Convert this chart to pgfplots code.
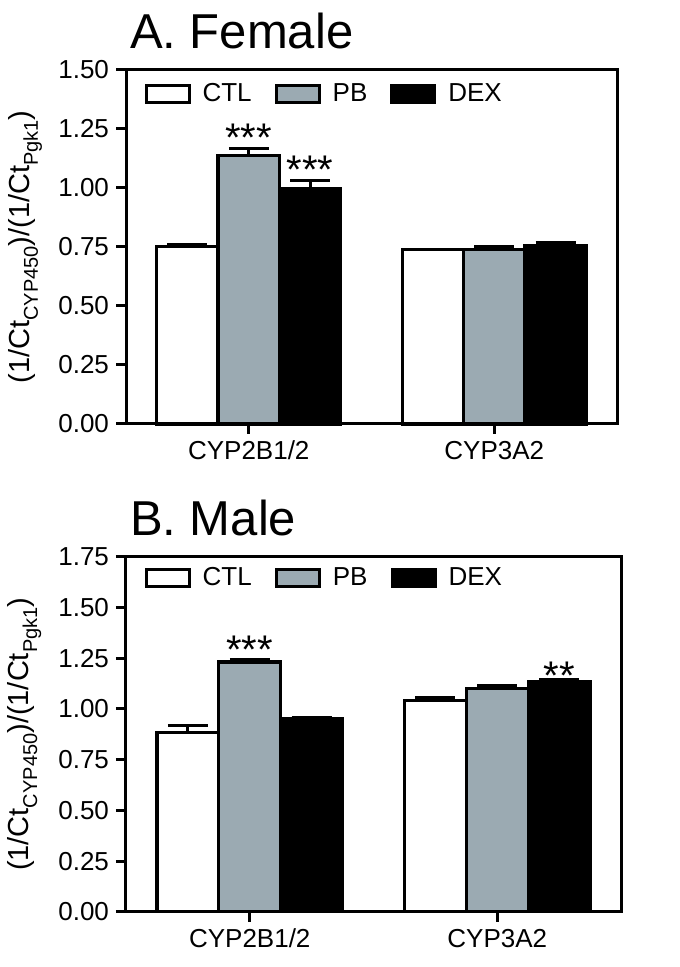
\documentclass[border=0pt]{standalone}
\usepackage{fontspec}
\setmainfont{Liberation Sans}
\usepackage{pgfplots}
\pgfplotsset{compat=1.18}
\definecolor{pbgrey}{RGB}{155,170,178}
\newcommand{\sub}[1]{\raisebox{-0.28em}{\fontsize{10}{10}\selectfont #1}}
\tikzset{stars/.style={anchor=base, font=\fontsize{20}{20}\selectfont}}
\pgfplotsset{
  mybars/.style={
    scale only axis,
    width=245.5pt, height=177pt,
    ybar=0pt, bar width=0.25,
    xmin=-0.5, xmax=1.5, ymin=0,
    axis line style={line width=1.5pt},
    xtick pos=bottom, ytick pos=left,
    xtick={0,1}, xticklabels={CYP2B1/2, CYP3A2},
    tick align=outside, major tick length=5pt,
    tick style={line width=1.5pt, black},
    ticklabel style={font=\fontsize{13}{13}\selectfont},
    yticklabel style={/pgf/number format/fixed, /pgf/number format/fixed zerofill, /pgf/number format/precision=2, /pgf/number format/assume math mode=true},
    ylabel={(1/Ct\sub{CYP450})/(1/Ct\sub{Pgk1})},
    ylabel style={at={(axis description cs:-0.205,0.5)}, anchor=center, font=\fontsize{14.5}{14.5}\selectfont},
    title style={at={(axis description cs:0,1)}, anchor=base west, yshift=4.5pt, xshift=-1.5pt, font=\fontsize{24.5}{24.5}\selectfont},
    legend columns=3,
    legend style={draw=none, fill=none, inner sep=0pt, font=\fontsize{13}{13}\selectfont,
      /tikz/every odd column/.append style={column sep=4pt},
      /tikz/every even column/.append style={column sep=9.5pt}},
    legend image code/.code={\draw[#1, line width=1.5pt] (0pt,-4.3pt) rectangle (21.5pt,4.3pt);},
    every axis plot/.append style={line width=1.6pt, draw=black,
      error bars/y dir=plus, error bars/y explicit,
      error bars/error bar style={line width=1.5pt, black},
      error bars/error mark options={rotate=90, mark size=10pt, line width=1.5pt, black}},
    clip=false,
  },
}
\begin{document}
\begin{tikzpicture}
\path[use as bounding box] (0,0) rectangle (339.5pt,483.5pt);
% Top: female
\begin{axis}[mybars, at={(63pt,271.5pt)}, anchor=south west,
  ymax=1.5, ytick={0,0.25,...,1.5},
  title={A. Female},
  legend style={at={(axis description cs:0.037,0.932)}, anchor=west}]
\addplot[fill=white] coordinates {(0,0.752) +- (0,0.010) (1,0.738) +- (0,0.003)};
\addplot[fill=pbgrey] coordinates {(0,1.138) +- (0,0.028) (1,0.738) +- (0,0.015)};
\addplot[fill=black] coordinates {(0,0.998) +- (0,0.032) (1,0.755) +- (0,0.015)};
\legend{CTL,PB,DEX}
\node[stars] at (axis cs:0,1.155) {***};
\node[stars] at (axis cs:0.25,1.017) {***};
\end{axis}
% Bottom: male
\begin{axis}[mybars, at={(63pt,27.6pt)}, anchor=south west, width=247.5pt, height=177.5pt,
  ymax=1.75, ytick={0,0.25,...,1.75},
  title={B. Male},
  legend style={at={(axis description cs:0.037,0.94)}, anchor=west}]
\addplot[fill=white] coordinates {(0,0.883) +- (0,0.033) (1,1.042) +- (0,0.012)};
\addplot[fill=pbgrey] coordinates {(0,1.231) +- (0,0.014) (1,1.100) +- (0,0.018)};
\addplot[fill=black] coordinates {(0,0.950) +- (0,0.010) (1,1.133) +- (0,0.013)};
\legend{CTL,PB,DEX}
\node[stars] at (axis cs:0,1.225) {***};
\node[stars] at (axis cs:1.25,1.098) {**};
\end{axis}
\end{tikzpicture}
\end{document}
